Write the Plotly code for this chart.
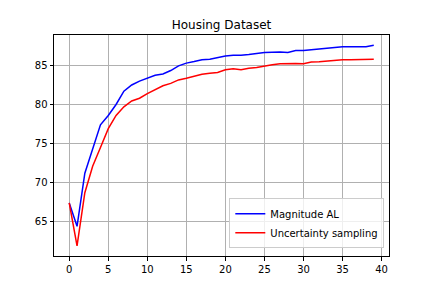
import plotly.graph_objects as go

iterations = list(range(40))
magnitude_al = [67.4, 64.4, 71.2, 74.3, 77.4, 78.6, 80.0, 81.7, 82.5, 83.0,
                83.4, 83.75, 83.9, 84.35, 84.95, 85.3, 85.5, 85.74, 85.8, 86.04,
                86.2, 86.3, 86.3, 86.4, 86.56, 86.65, 86.7, 86.73, 86.65, 86.9,
                86.9, 87.04, 87.1, 87.2, 87.3, 87.38, 87.38, 87.38, 87.4, 87.6]
uncertainty = [67.4, 61.9, 68.7, 72.1, 74.5, 76.9, 78.6, 79.7, 80.45, 80.8,
               81.4, 81.85, 82.4, 82.7, 83.15, 83.35, 83.66, 83.87, 84.0, 84.1,
               84.44, 84.57, 84.44, 84.65, 84.74, 84.96, 85.09, 85.22, 85.26, 85.26,
               85.22, 85.43, 85.46, 85.56, 85.65, 85.74, 85.74, 85.74, 85.78, 85.78]
x_ticks = [0, 5, 10, 15, 20, 25, 30, 35, 40]
y_ticks = [65, 70, 75, 80, 85]

fig = go.Figure()
fig.add_trace(go.Scatter(x=iterations, y=magnitude_al, mode="lines", name="Magnitude AL",
                         line=dict(color="#0000ff", width=1.5)))
fig.add_trace(go.Scatter(x=iterations, y=uncertainty, mode="lines", name="Uncertainty sampling",
                         line=dict(color="#ff0000", width=1.5)))

axis_common = dict(showgrid=True, gridcolor="#b0b0b0", gridwidth=0.8, zeroline=False,
                   showline=True, linecolor="black", linewidth=1, mirror=True,
                   ticks="outside", ticklen=3.5, tickwidth=0.8, tickcolor="black",
                   tickfont=dict(family="DejaVu Sans", size=10, color="black"))

fig.update_layout(
    width=432, height=288,
    margin=dict(l=54, r=43.2, t=34.56, b=31.68),
    paper_bgcolor="white", plot_bgcolor="white",
    title=dict(text="Housing Dataset", x=0.5, xref="paper", xanchor="center",
               y=1 - 25 / 288, yref="container", yanchor="middle",
               font=dict(family="DejaVu Sans", size=12, color="black")),
    xaxis=dict(range=[-1.95, 40.95], tickvals=x_ticks, **axis_common),
    yaxis=dict(range=[60.6, 88.9], tickvals=y_ticks, **axis_common),
    legend=dict(x=0.986, y=0.035, xanchor="right", yanchor="bottom",
                bgcolor="rgba(255,255,255,0.8)", bordercolor="#cccccc", borderwidth=1,
                font=dict(family="DejaVu Sans", size=10, color="black"),
                tracegroupgap=0, itemwidth=30),
    showlegend=True,
)

fig.write_html("out.html", config={"displayModeBar": False},
               post_script="document.body.style.margin='0';document.body.style.padding='0';")
